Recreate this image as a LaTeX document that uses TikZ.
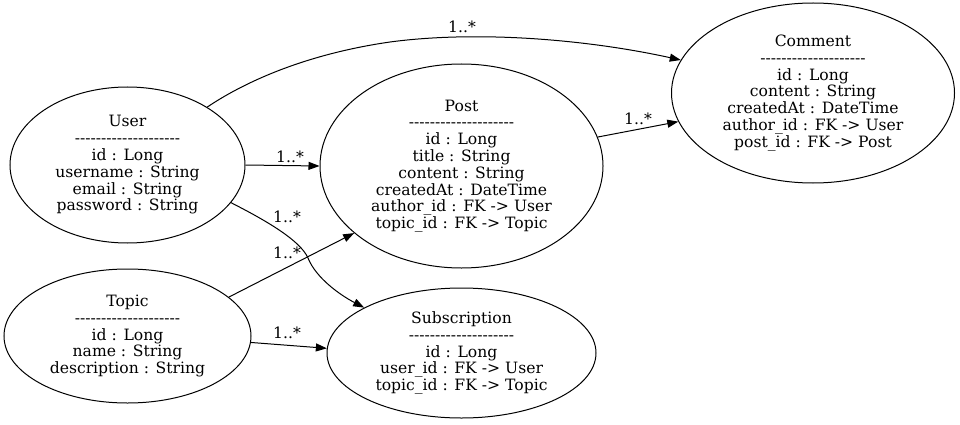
\documentclass[tikz,border=0pt]{standalone}
\usepackage{fontspec}
\setmainfont{DejaVu Serif}[Ligatures=TeXOff]
\usetikzlibrary{shapes.geometric,arrows.meta}
\tikzset{
  ent/.style={draw, ellipse, line width=1pt, inner sep=0pt, align=center,
    font=\fontsize{15.6pt}{16.8pt}\selectfont},
  lbl/.style={inner sep=0pt, font=\fontsize{15.6pt}{16.8pt}\selectfont},
  rel/.style={line width=1pt, -{Triangle[length=11pt,width=8pt]}}
}
\newcommand{\dsh}{--------------------}
\begin{document}
\begin{tikzpicture}[x=1pt,y=-1pt]
\useasboundingbox (0,0) rectangle (960,425);
\node[ent, minimum width=235pt, minimum height=156pt] (user) at (127.5,165)
  {User\\\dsh\\id : Long\\username : String\\email : String\\password : String};
\node[ent, minimum width=247pt, minimum height=134pt] (topic) at (127.5,336)
  {Topic\\\dsh\\id : Long\\name : String\\description : String};
\node[ent, minimum width=283pt, minimum height=204pt] (post) at (461.5,166)
  {Post\\\dsh\\id : Long\\title : String\\content : String\\createdAt : DateTime\\author\_id : FK -> User\\topic\_id : FK -> Topic};
\node[ent, minimum width=283pt, minimum height=180pt] (comment) at (813,93)
  {Comment\\\dsh\\id : Long\\content : String\\createdAt : DateTime\\author\_id : FK -> User\\post\_id : FK -> Post};
\node[ent, minimum width=269pt, minimum height=130pt] (sub) at (461.5,353)
  {Subscription\\\dsh\\id : Long\\user\_id : FK -> User\\topic\_id : FK -> Topic};

\draw[rel] (user.36.5) .. controls (240,85) and (300,55) .. (390,42)
  .. controls (480,30) and (590,40) .. (comment.166.2);
\draw[rel] (user.0) -- (post.west);
\draw[rel] (user.-20) .. controls (265,220) and (300,240) .. (308,258)
  .. controls (316,278) and (340,295) .. (sub.155.7);
\draw[rel] (topic.21.4) -- (post.212.2);
\draw[rel] (topic.-3.3) -- (sub.178.3);
\draw[rel] (post.12) -- (comment.192.2);

\node[lbl] (l1) at (462,27) {1..*};
\node[lbl] (l2) at (290,157) {1..*};
\node[lbl] (l3) at (287,217) {1..*};
\node[lbl] (l4) at (287,253) {1..*};
\node[lbl] (l5) at (287,333) {1..*};
\node[lbl] (l6) at (638,119) {1..*};
\end{tikzpicture}
\end{document}
